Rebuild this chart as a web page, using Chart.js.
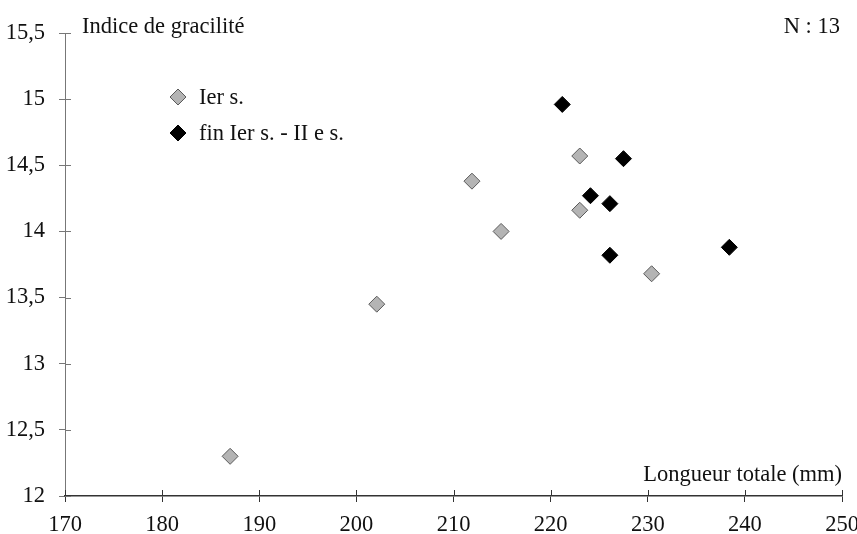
<!DOCTYPE html>
<html>
<head>
<meta charset="utf-8">
<script src="https://cdn.jsdelivr.net/npm/chart.js@4.4.1/dist/chart.umd.min.js"></script>
<style>
  html, body { margin: 0; padding: 0; background: #fff; }
  #wrap { width: 857px; height: 534px; }
</style>
</head>
<body>
<div id="wrap"><canvas id="scatterChart" width="857" height="534"></canvas></div>
<script>
// Ier s.
const ierLength = [187.0, 202.1, 211.9, 214.9, 223.0, 223.0, 230.4];
const ierIndex = [12.30, 13.45, 14.38, 14.00, 14.57, 14.16, 13.68];

// fin Ier s. - II e s.
const finLength = [221.2, 227.5, 224.1, 226.1, 226.1, 238.4];
const finIndex = [14.96, 14.55, 14.27, 14.21, 13.82, 13.88];

const xTicks = [170, 180, 190, 200, 210, 220, 230, 240, 250];
const yTicks = [12, 12.5, 13, 13.5, 14, 14.5, 15, 15.5];
const seriesNames = ['Ier s.', 'fin Ier s. - II e s.'];

const FONT = '"Liberation Serif", "Times New Roman", serif';
const FONT_SIZE = 22.5;

function toPoints(xs, ys) {
  return xs.map((x, i) => ({ x: x, y: ys[i] }));
}

// draws the inner half of the tick marks, the texts and the legend
const extras = {
  id: 'extras',
  afterDraw(chart) {
    const ctx = chart.ctx;
    const area = chart.chartArea;
    const xs = chart.scales.x;
    const ys = chart.scales.y;
    ctx.save();

    ctx.strokeStyle = '#333';
    ctx.lineWidth = 1;
    xTicks.forEach(v => {
      const px = Math.round(xs.getPixelForValue(v)) + 0.5;
      ctx.beginPath();
      ctx.moveTo(px, area.bottom);
      ctx.lineTo(px, area.bottom - 6);
      ctx.stroke();
    });
    ctx.strokeStyle = '#777';
    yTicks.forEach(v => {
      const py = Math.round(ys.getPixelForValue(v)) + 0.5;
      ctx.beginPath();
      ctx.moveTo(area.left, py);
      ctx.lineTo(area.left + 6, py);
      ctx.stroke();
    });

    ctx.fillStyle = '#111';
    ctx.font = FONT_SIZE + 'px ' + FONT;
    ctx.textBaseline = 'middle';
    ctx.textAlign = 'left';
    ctx.fillText('Indice de gracilité', area.left + 17, area.top - 6);
    ctx.textAlign = 'right';
    ctx.fillText('N : 13', area.right - 2, area.top - 6);
    ctx.fillText('Longueur totale (mm)', area.right, area.bottom - 21);

    // legend
    chart.data.datasets.forEach((ds, i) => {
      const lx = area.left + 113;
      const ly = area.top + 64 + i * 36;
      ctx.beginPath();
      ctx.moveTo(lx, ly - 8);
      ctx.lineTo(lx + 8, ly);
      ctx.lineTo(lx, ly + 8);
      ctx.lineTo(lx - 8, ly);
      ctx.closePath();
      ctx.fillStyle = ds.backgroundColor;
      ctx.fill();
      ctx.strokeStyle = ds.borderColor;
      ctx.lineWidth = 1;
      ctx.stroke();
      ctx.fillStyle = '#111';
      ctx.textAlign = 'left';
      ctx.fillText(ds.label, lx + 21, ly + 1);
    });
    ctx.restore();
  }
};

const ctx = document.getElementById('scatterChart').getContext('2d');
new Chart(ctx, {
  type: 'scatter',
  data: {
    datasets: [
      {
        label: seriesNames[0],
        data: toPoints(ierLength, ierIndex),
        pointStyle: 'rectRot',
        pointRadius: 8,
        backgroundColor: '#b4b4b4',
        borderColor: '#5a5a5a',
        borderWidth: 1
      },
      {
        label: seriesNames[1],
        data: toPoints(finLength, finIndex),
        pointStyle: 'rectRot',
        pointRadius: 8,
        backgroundColor: '#000000',
        borderColor: '#000000',
        borderWidth: 1
      }
    ]
  },
  options: {
    responsive: false,
    animation: false,
    layout: { padding: { left: 0, right: 15, top: 33, bottom: 0 } },
    plugins: {
      legend: { display: false },
      tooltip: { enabled: false }
    },
    scales: {
      x: {
        type: 'linear',
        min: 170,
        max: 250,
        afterBuildTicks: scale => { scale.ticks = xTicks.map(v => ({ value: v })); },
        afterFit: scale => {
          scale.height = 38;
          scale.paddingLeft = 0;
          scale.paddingRight = 0;
        },
        border: { color: '#333', width: 1.5 },
        grid: { drawOnChartArea: false, tickLength: 6, color: '#333' },
        ticks: {
          color: '#111',
          padding: 10,
          font: { family: FONT, size: FONT_SIZE }
        }
      },
      y: {
        type: 'linear',
        min: 12,
        max: 15.5,
        afterBuildTicks: scale => { scale.ticks = yTicks.map(v => ({ value: v })); },
        afterFit: scale => {
          scale.width = 65;
          scale.paddingTop = 0;
          scale.paddingBottom = 0;
        },
        border: { color: '#777', width: 1 },
        grid: { drawOnChartArea: false, tickLength: 6, color: '#777' },
        ticks: {
          color: '#111',
          padding: 14,
          font: { family: FONT, size: FONT_SIZE },
          callback: v => String(v).replace('.', ',')
        }
      }
    }
  },
  plugins: [extras]
});
</script>
</body>
</html>
